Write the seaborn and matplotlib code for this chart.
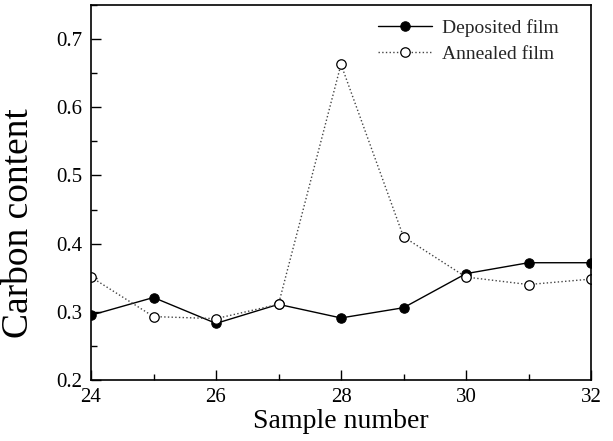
import matplotlib
matplotlib.use("Agg")
import matplotlib.pyplot as plt
import seaborn as sns
import numpy as np
from matplotlib.ticker import MultipleLocator

samples = [24, 25, 26, 27, 28, 29, 30, 31, 32]
deposited = [0.295, 0.321, 0.283, 0.311, 0.291, 0.306, 0.356, 0.372, 0.372]
annealed = [0.351, 0.293, 0.290, 0.311, 0.663, 0.410, 0.351, 0.340, 0.348]

sns.set_theme(style="ticks")
plt.rcParams['font.family'] = ['Liberation Serif', 'DejaVu Serif']

fig = plt.figure(figsize=(6.13, 4.41), dpi=100)
ax = fig.add_axes([91/613, 1 - 380/441, (591-91)/613, (380-5)/441])

sns.lineplot(x=samples, y=deposited, ax=ax, color='black', linewidth=1.0,
             marker='o', markersize=6.8, markerfacecolor='black',
             markeredgecolor='black', label='Deposited film')
sns.lineplot(x=samples, y=annealed, ax=ax, color='#444444', linewidth=1.0,
             linestyle=':', marker='o', markersize=6.8, markerfacecolor='white',
             markeredgecolor='black', markeredgewidth=0.9, label='Annealed film')

ax.set_xlim(24, 32)
ax.set_ylim(0.2, 0.75)
ax.xaxis.set_major_locator(MultipleLocator(2))
ax.xaxis.set_minor_locator(MultipleLocator(1))
ax.yaxis.set_minor_locator(MultipleLocator(0.05))
ax.set_yticks([0.2, 0.3, 0.4, 0.5, 0.6, 0.7])
ax.set_yticklabels(['0.2', '0.3', '0.4', '0.5', '0.6', '0.7'])
ax.tick_params(which='both', direction='in', top=False, right=False, labelsize=15,
               width=1.0, color='black', labelcolor='black')
ax.tick_params(which='major', length=7)
ax.tick_params(which='minor', length=4)
ax.tick_params(axis='x', which='major', pad=6)
ax.tick_params(axis='y', which='major', pad=6)
for s in ax.spines.values():
    s.set_linewidth(1.2)
    s.set_color('black')
    s.set_visible(True)

ax.set_xlabel('Sample number', fontsize=20, labelpad=1, color='black')
ax.set_ylabel('Carbon content', fontsize=27, color='black')
ax.yaxis.set_label_coords((36 - 91) / 500, (380 - 223) / 375)

leg = ax.legend(loc='upper right', bbox_to_anchor=(0.966, 1.005), frameon=False,
                fontsize=14, handlelength=2.8, handletextpad=0.5,
                borderaxespad=0.4, labelspacing=0.45)

fig.savefig('out.png', dpi=100)
